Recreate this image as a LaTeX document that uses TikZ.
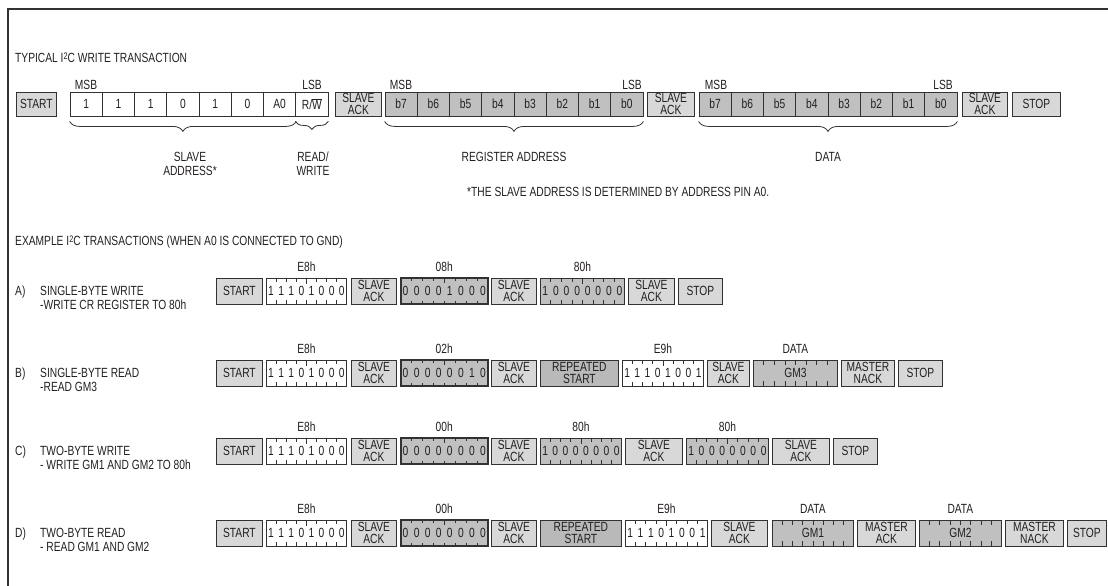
\documentclass[tikz,border=0pt]{standalone}
\usepackage{fontspec}
\setmainfont{Liberation Sans}[FakeStretch=0.77]
\usetikzlibrary{calc,decorations.pathreplacing}
\definecolor{txt}{RGB}{35,31,32}
\definecolor{edge}{RGB}{50,50,50}
\definecolor{lightf}{RGB}{216,216,216}
\definecolor{midf}{RGB}{192,192,192}
\definecolor{rsf}{RGB}{185,185,185}
\newcommand{\fs}{\fontsize{13.3}{12.5}\selectfont}
\newcommand{\rwlbl}{R/$\overline{\mbox{W}}$}
\newcommand{\suptwo}{\raisebox{3.6pt}{\fontsize{9.5}{9.5}\selectfont 2}}
\tikzset{
  every node/.style={text=txt, font=\fs, inner sep=0pt},
  bx/.style={draw=edge, line width=0.8pt, minimum height=24pt, align=center},
  lightbx/.style={bx, fill=lightf},
  whitebx/.style={bx, fill=white},
  darkbx/.style={bx, fill=midf},
  thickbx/.style={bx, fill=midf, line width=1.5pt},
  rsbx/.style={bx, fill=rsf},
  eh/.style={minimum height=26pt},
  lbl/.style={text height=9.5pt, text depth=0pt},
  tickln/.style={draw=edge, line width=0.6pt},
  brc/.style={draw=edge, line width=0.8pt, decorate, decoration={brace, mirror, amplitude=10pt}},
  twol/.style={align=center, font=\fontsize{13.3}{14}\selectfont},
}
% plain box: name, x1, x2, yc, style, text
\newcommand{\fbx}[6]{\node[#5, minimum width={(#3)-(#2)}, anchor=west] (#1) at (#2,#4) {#6};}
% bit box: name, x1, x2, yc, style, bits, label
\newcommand{\bitbx}[7]{%
  \node[#5, minimum width={(#3)-(#2)}, anchor=west] (#1) at (#2,#4) {};
  \foreach \bb [count=\ii] in {#6}{\node (#1d\ii) at ($(#1.west)!{(\ii-0.5)/8}!(#1.east)$) {\bb};}
  \foreach \ii in {1,...,7}{
    \draw[tickln] ($(#1.north west)!{\ii/8}!(#1.north east)$) -- ++(0,{ifthenelse(\ii==4,6,4)});
    \draw[tickln] ($(#1.south west)!{\ii/8}!(#1.south east)$) -- ++(0,-4);}
  \node[lbl] (#1l) at ($(#1.north)+(0,-11)$) {#7};}
% data box with ticks: name, x1, x2, yc, text, label
\newcommand{\gmbx}[6]{%
  \node[darkbx, eh, minimum width={(#3)-(#2)}, anchor=west] (#1) at (#2,#4) {#5};
  \foreach \ii in {1,...,7}{
    \draw[tickln] ($(#1.north west)!{\ii/8}!(#1.north east)$) -- ++(0,5);
    \draw[tickln] ($(#1.south west)!{\ii/8}!(#1.south east)$) -- ++(0,-5);}
  \node[lbl] (#1l) at ($(#1.north)+(0,-11)$) {#6};}

\begin{document}
\begin{tikzpicture}[x=1pt,y=-1pt]
\useasboundingbox (0,0) rectangle (1108,586);
\draw[edge, line width=1.5pt] (1108,9) -- (8,9) -- (8,586);

% ---------- typical write transaction ----------
\node[lbl, anchor=west] (t1) at (15,58) {TYPICAL I\suptwo C WRITE TRANSACTION};

\fbx{tS}{16}{56}{104}{lightbx}{START}
\foreach \t [count=\i] in {1,1,1,0,1,0,A0,\rwlbl}
  \node[whitebx, minimum width=32.25pt] (addr\i) at ({70+(\i-0.5)*32.25},104) {\t};
\fbx{tK1}{335}{381}{104}{lightbx}{SLAVE\\ACK}
\foreach \t [count=\i] in {b7,b6,b5,b4,b3,b2,b1,b0}
  \node[darkbx, minimum width=32.25pt] (reg\i) at ({385+(\i-0.5)*32.25},104) {\t};
\fbx{tK2}{647}{694}{104}{lightbx}{SLAVE\\ACK}
\foreach \t [count=\i] in {b7,b6,b5,b4,b3,b2,b1,b0}
  \node[darkbx, minimum width=32.25pt] (dat\i) at ({699+(\i-0.5)*32.25},104) {\t};
\fbx{tK3}{962}{1007}{104}{lightbx}{SLAVE\\ACK}
\fbx{tP}{1012}{1060}{104}{lightbx}{STOP}

\node[lbl] (msb1) at (86,85) {MSB};
\node[lbl] (lsb1) at (312,85) {LSB};
\node[lbl] (msb2) at (401,85) {MSB};
\node[lbl] (lsb2) at (632,85) {LSB};
\node[lbl] (msb3) at (716,85) {MSB};
\node[lbl] (lsb3) at (943,85) {LSB};

\draw[brc] ([yshift=-5pt]addr1.south west) -- ([yshift=-5pt]addr7.south east);
\draw[brc, decoration={brace, mirror, amplitude=8pt}] ([yshift=-5pt]addr8.south west) -- ([yshift=-5pt]addr8.south east);
\draw[brc] ([yshift=-5pt]reg1.south west) -- ([yshift=-5pt]reg8.south east);
\draw[brc] ([yshift=-5pt]dat1.south west) -- ([yshift=-5pt]dat8.south east);

\node[twol] (saddr) at (190,164) {SLAVE\\ADDRESS*};
\node[twol] (rw) at (313,164) {READ/\\WRITE};
\node[lbl] (regl) at (514,157) {REGISTER ADDRESS};
\node[lbl] (datl) at (828,157) {DATA};
\node[lbl, anchor=west] (fn) at (467,192) {*THE SLAVE ADDRESS IS DETERMINED BY ADDRESS PIN A0.};

% ---------- examples ----------
\node[lbl, anchor=west] (t2) at (15,241) {EXAMPLE I\suptwo C TRANSACTIONS (WHEN A0 IS CONNECTED TO GND)};

% Row A
\node[lbl, anchor=west] (la0) at (15,291) {A)};
\node[lbl, anchor=west] (la1) at (40,291) {SINGLE-BYTE WRITE};
\node[lbl, anchor=west] (la2) at (40,305) {-WRITE CR REGISTER TO 80h};
\fbx{aS}{216}{262}{291}{lightbx,eh}{START}
\bitbx{aB1}{266}{346}{291}{whitebx,eh}{1,1,1,0,1,0,0,0}{E8h}
\fbx{aK1}{351}{396}{291}{lightbx,eh}{SLAVE\\ACK}
\bitbx{aB2}{400}{487}{291}{thickbx,eh}{0,0,0,0,1,0,0,0}{08h}
\fbx{aK2}{491}{536}{291}{lightbx,eh}{SLAVE\\ACK}
\bitbx{aB3}{540}{624}{291}{darkbx,eh}{1,0,0,0,0,0,0,0}{80h}
\fbx{aK3}{628}{674}{291}{lightbx,eh}{SLAVE\\ACK}
\fbx{aP}{678}{722}{291}{lightbx,eh}{STOP}

% Row B
\node[lbl, anchor=west] (lb0) at (15,373) {B)};
\node[lbl, anchor=west] (lb1) at (40,373) {SINGLE-BYTE READ};
\node[lbl, anchor=west] (lb2) at (40,387) {-READ GM3};
\fbx{bS}{216}{262}{373}{lightbx,eh}{START}
\bitbx{bB1}{266}{346}{373}{whitebx,eh}{1,1,1,0,1,0,0,0}{E8h}
\fbx{bK1}{351}{396}{373}{lightbx,eh}{SLAVE\\ACK}
\bitbx{bB2}{400}{487}{373}{thickbx,eh}{0,0,0,0,0,0,1,0}{02h}
\fbx{bK2}{491}{536}{373}{lightbx,eh}{SLAVE\\ACK}
\fbx{bR}{540}{618}{373}{rsbx,eh}{REPEATED\\START}
\bitbx{bB3}{622}{703}{373}{whitebx,eh}{1,1,1,0,1,0,0,1}{E9h}
\fbx{bK3}{707}{749}{373}{lightbx,eh}{SLAVE\\ACK}
\gmbx{bG}{753}{837}{373}{GM3}{DATA}
\fbx{bN}{841}{894}{373}{lightbx,eh}{MASTER\\NACK}
\fbx{bP}{898}{942}{373}{lightbx,eh}{STOP}

% Row C
\node[lbl, anchor=west] (lc0) at (15,451) {C)};
\node[lbl, anchor=west] (lc1) at (40,451) {TWO-BYTE WRITE};
\node[lbl, anchor=west] (lc2) at (40,465) {- WRITE GM1 AND GM2 TO 80h};
\fbx{cS}{216}{262}{451}{lightbx,eh}{START}
\bitbx{cB1}{266}{346}{451}{whitebx,eh}{1,1,1,0,1,0,0,0}{E8h}
\fbx{cK1}{351}{396}{451}{lightbx,eh}{SLAVE\\ACK}
\bitbx{cB2}{400}{487}{451}{thickbx,eh}{0,0,0,0,0,0,0,0}{00h}
\fbx{cK2}{491}{536}{451}{lightbx,eh}{SLAVE\\ACK}
\bitbx{cB3}{540}{621}{451}{darkbx,eh}{1,0,0,0,0,0,0,0}{80h}
\fbx{cK3}{625}{682}{451}{lightbx,eh}{SLAVE\\ACK}
\bitbx{cB4}{686}{768}{451}{darkbx,eh}{1,0,0,0,0,0,0,0}{80h}
\fbx{cK4}{772}{829}{451}{lightbx,eh}{SLAVE\\ACK}
\fbx{cP}{833}{877}{451}{lightbx,eh}{STOP}

% Row D
\node[lbl, anchor=west] (ld0) at (15,533) {D)};
\node[lbl, anchor=west] (ld1) at (40,533) {TWO-BYTE READ};
\node[lbl, anchor=west] (ld2) at (40,547) {- READ GM1 AND GM2};
\fbx{dS}{216}{262}{533}{lightbx,eh}{START}
\bitbx{dB1}{266}{346}{533}{whitebx,eh}{1,1,1,0,1,0,0,0}{E8h}
\fbx{dK1}{351}{396}{533}{lightbx,eh}{SLAVE\\ACK}
\bitbx{dB2}{400}{487}{533}{thickbx,eh}{0,0,0,0,0,0,0,0}{00h}
\fbx{dK2}{491}{536}{533}{lightbx,eh}{SLAVE\\ACK}
\fbx{dR}{540}{621}{533}{rsbx,eh}{REPEATED\\START}
\bitbx{dB3}{625}{707}{533}{whitebx,eh}{1,1,1,0,1,0,0,1}{E9h}
\fbx{dK3}{711}{767}{533}{lightbx,eh}{SLAVE\\ACK}
\gmbx{dG1}{772}{853}{533}{GM1}{DATA}
\fbx{dA}{857}{915}{533}{lightbx,eh}{MASTER\\ACK}
\gmbx{dG2}{919}{1001}{533}{GM2}{DATA}
\fbx{dN}{1005}{1063}{533}{lightbx,eh}{MASTER\\NACK}
\fbx{dP}{1067}{1106}{533}{lightbx,eh}{STOP}
\end{tikzpicture}
\end{document}
